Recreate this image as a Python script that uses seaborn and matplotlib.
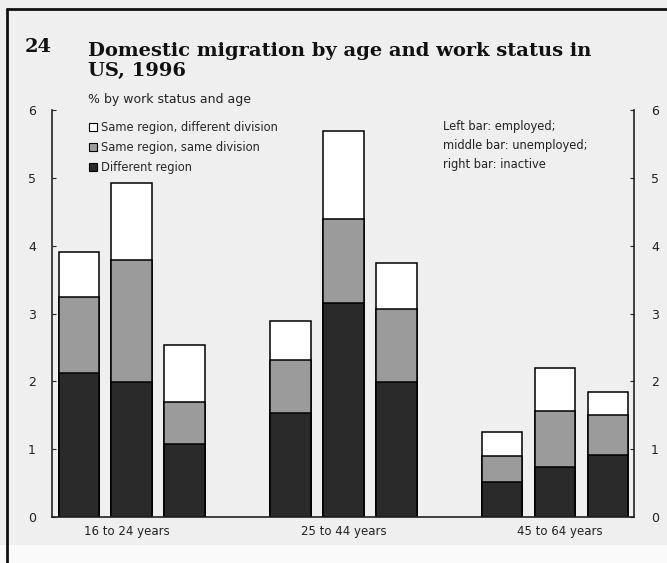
import numpy as np
import pandas as pd
import matplotlib
matplotlib.use("Agg")
import matplotlib.pyplot as plt
from matplotlib.patches import Patch, Rectangle
import seaborn as sns

# Data: % of each age / work-status group that moved, split by type of move
age_groups = ["16 to 24 years", "25 to 44 years", "45 to 64 years"]
work_status = ["employed", "unemployed", "inactive"]
different_region = [2.12, 1.99, 1.08, 1.53, 3.15, 1.99, 0.51, 0.74, 0.92]
same_region_same_division = [1.12, 1.80, 0.62, 0.78, 1.24, 1.07, 0.39, 0.83, 0.58]
same_region_diff_division = [0.67, 1.14, 0.84, 0.58, 1.30, 0.68, 0.35, 0.63, 0.34]

sns.set_theme(style="white")
plt.rcParams["font.family"] = ["DejaVu Sans"]

bg = "#efefef"
dark = "#2a2a2a"
mid = "#9b9b9b"

# bar slots: three bars per age group, one empty slot between groups
pos = [g * 4 + s for g in range(len(age_groups)) for s in range(len(work_status))]
df = pd.DataFrame({
    "pos": pos,
    "age": [a for a in age_groups for _ in work_status],
    "status": work_status * len(age_groups),
    "dark": different_region,
    "mid": same_region_same_division,
    "light": same_region_diff_division,
})
df["cum_mid"] = df["dark"] + df["mid"]
df["total"] = df["cum_mid"] + df["light"]

fig = plt.figure(figsize=(6.67, 5.63), dpi=100, facecolor=bg)
ax = fig.add_axes([0.0787, 0.0817, 0.8723, 0.7229])
ax.set_facecolor(bg)

for col, colour in [("total", "white"), ("cum_mid", mid), ("dark", dark)]:
    sns.barplot(data=df, x="pos", y=col, native_scale=True, width=0.77,
                color=colour, edgecolor="black", linewidth=1.1,
                saturation=1, ax=ax, errorbar=None)

ax.set_xlim(-0.5, 10.5)
ax.set_ylim(0, 6)
ax.set_xlabel("")
ax.set_ylabel("")
ax.set_xticks([0.9, 5, 9.1])
ax.set_xticklabels(age_groups, fontsize=8.5, color="#222222")
ax.tick_params(axis="x", length=0, pad=6)
ax.set_yticks(range(7))
ax.tick_params(axis="y", direction="in", length=3, labelsize=9,
               labelcolor="#222222", left=True, right=True,
               labelleft=True, labelright=True, pad=12, width=0.8)
for side in ["left", "right", "bottom"]:
    ax.spines[side].set_color("#222222")
    ax.spines[side].set_linewidth(1.2)
ax.spines["top"].set_visible(False)

handles = [
    Patch(facecolor="white", edgecolor="black", linewidth=0.8,
          label="Same region, different division"),
    Patch(facecolor=mid, edgecolor="black", linewidth=0.8,
          label="Same region, same division"),
    Patch(facecolor=dark, edgecolor="black", linewidth=0.8,
          label="Different region"),
]
ax.legend(handles=handles, loc="upper left", bbox_to_anchor=(0.05, 0.99),
          frameon=False, fontsize=8.3, handlelength=0.75, handleheight=0.75,
          handletextpad=0.3, labelspacing=0.6, borderaxespad=0.2)

ax.text(0.672, 0.975,
        "Left bar: employed;\nmiddle bar: unemployed;\nright bar: inactive",
        transform=ax.transAxes, ha="left", va="top", fontsize=8.3,
        color="#222222", linespacing=1.6)

# heading
fig.text(25 / 667, 1 - 47 / 563, "24", ha="left", va="center",
         fontsize=14, fontweight="bold", family="DejaVu Serif", color="#111111")
fig.text(88 / 667, 1 - 61 / 563, "Domestic migration by age and work status in\nUS, 1996",
         ha="left", va="center", fontsize=14, fontweight="bold",
         family="DejaVu Serif", color="#111111", linespacing=1.15)
fig.text(88 / 667, 1 - 100 / 563, "% by work status and age", ha="left",
         va="center", fontsize=9, color="#222222")

# outer frame and pale strip along the bottom
fig.patches.append(Rectangle((0, 0), 1, 18 / 563, transform=fig.transFigure,
                             facecolor="#fafafa", edgecolor="none", zorder=0))
fig.add_artist(plt.Line2D([7 / 667, 7 / 667], [0, 1 - 9 / 563],
                          transform=fig.transFigure, color="#111111", lw=2))
fig.add_artist(plt.Line2D([7 / 667, 1], [1 - 9 / 563, 1 - 9 / 563],
                          transform=fig.transFigure, color="#111111", lw=2))

fig.savefig("out.png", dpi=100, facecolor=bg)
